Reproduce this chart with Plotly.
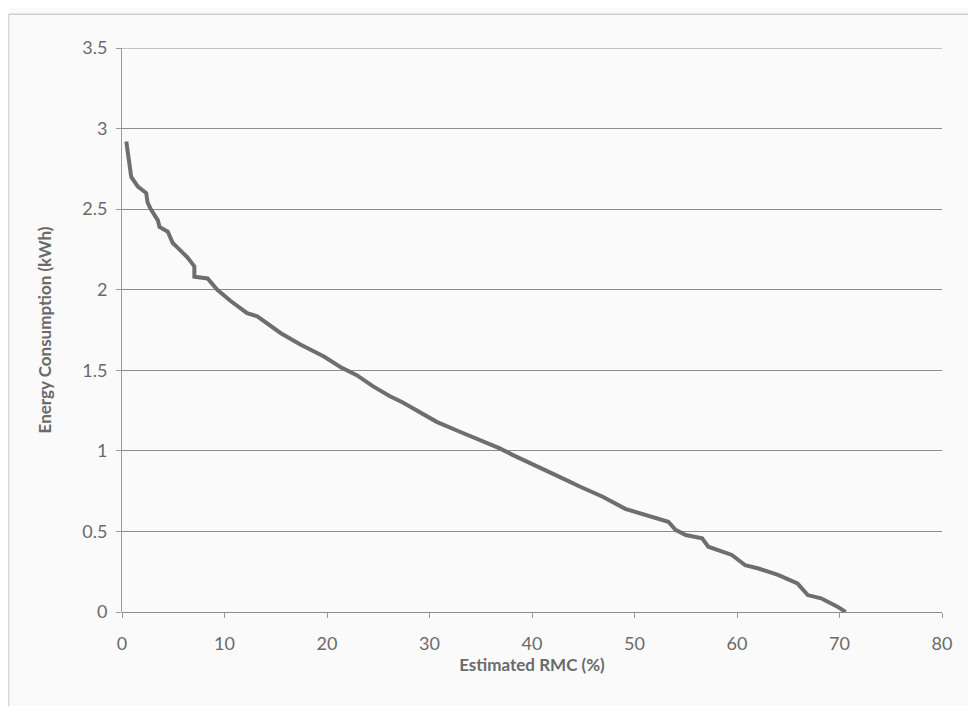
import plotly.graph_objects as go

# Estimated RMC (%) vs energy consumption (kWh)
rmc = [0.42, 0.9, 1.55, 2.36, 2.5, 2.8, 3.5, 3.66, 4.47, 4.95, 5.44, 6.4, 7.06, 7.06,
       8.35, 9.3, 10.6, 11.9, 12.2, 13.2, 15.5, 17.4, 19.7, 21.3, 22.9, 24.5, 26.1,
       27.4, 29.1, 30.7, 32.9, 34.9, 36.8, 38.1, 40.7, 43.3, 44.6, 46.9, 49.1, 51.1,
       53.3, 54.0, 55.0, 56.6, 57.2, 59.5, 60.8, 62.1, 64.0, 65.9, 66.9, 68.2, 69.8, 70.6]
energy = [2.92, 2.70, 2.64, 2.60, 2.54, 2.50, 2.43, 2.39, 2.36, 2.29, 2.26, 2.20, 2.145, 2.08,
          2.07, 2.00, 1.93, 1.865, 1.855, 1.835, 1.73, 1.66, 1.585, 1.52, 1.47, 1.40, 1.34,
          1.30, 1.235, 1.18, 1.12, 1.07, 1.017, 0.975, 0.90, 0.82, 0.78, 0.715, 0.64, 0.60,
          0.56, 0.51, 0.478, 0.457, 0.405, 0.354, 0.29, 0.27, 0.23, 0.178, 0.105, 0.085, 0.033, 0.0]

FONT = "Lato, 'Open Sans', sans-serif"
GREY = "#6a6a6a"
GRID = "#8c8c8c"

fig = go.Figure()
fig.add_trace(go.Scatter(
    x=rmc, y=energy,
    mode="lines",
    line=dict(color="#6e6e6e", width=4),
    showlegend=False,
))

fig.update_xaxes(
    range=[0, 80], dtick=10,
    showgrid=False, zeroline=False, showline=False,
    ticks="outside", ticklen=5, tickcolor="#9a9a9a",
    ticklabelstandoff=10,
    tickfont=dict(family=FONT, size=18, color=GREY),
    title=dict(text="<b>Estimated RMC (%)</b>",
               font=dict(family=FONT, size=17, color=GREY), standoff=6),
    automargin=False,
)
fig.update_yaxes(
    range=[0, 3.5], dtick=0.5,
    showgrid=True, gridcolor=GRID, gridwidth=1,
    zeroline=True, zerolinecolor=GRID, zerolinewidth=1,
    showline=True, linecolor="#9a9a9a", linewidth=1,
    ticks="outside", ticklen=5, tickcolor="#9a9a9a",
    ticklabelstandoff=5,
    tickfont=dict(family=FONT, size=18, color=GREY),
    title=dict(text="<b>Energy Consumption (kWh)</b>",
               font=dict(family=FONT, size=17, color=GREY), standoff=26),
    automargin=False,
)

# top gridline at 3.5 (plotly leaves it out at the range edge)
fig.add_shape(type="line", xref="paper", yref="y",
              x0=0, x1=1, y0=3.5, y1=3.5,
              line=dict(color=GRID, width=1))

# faint outer chart border (left and top edges)
fig.add_shape(type="line", xref="paper", yref="paper",
              x0=-0.138, x1=-0.138, y0=-0.2, y1=1.06,
              line=dict(color="#c8c8c8", width=1))
fig.add_shape(type="line", xref="paper", yref="paper",
              x0=-0.138, x1=1.1, y0=1.06, y1=1.06,
              line=dict(color="#b8b8b8", width=1))

fig.update_layout(
    width=960, height=698,
    margin=dict(l=114, r=26, t=40, b=94),
    paper_bgcolor="#fafafa",
    plot_bgcolor="#fafafa",
    font=dict(family=FONT),
)

fig.write_html("out.html")
